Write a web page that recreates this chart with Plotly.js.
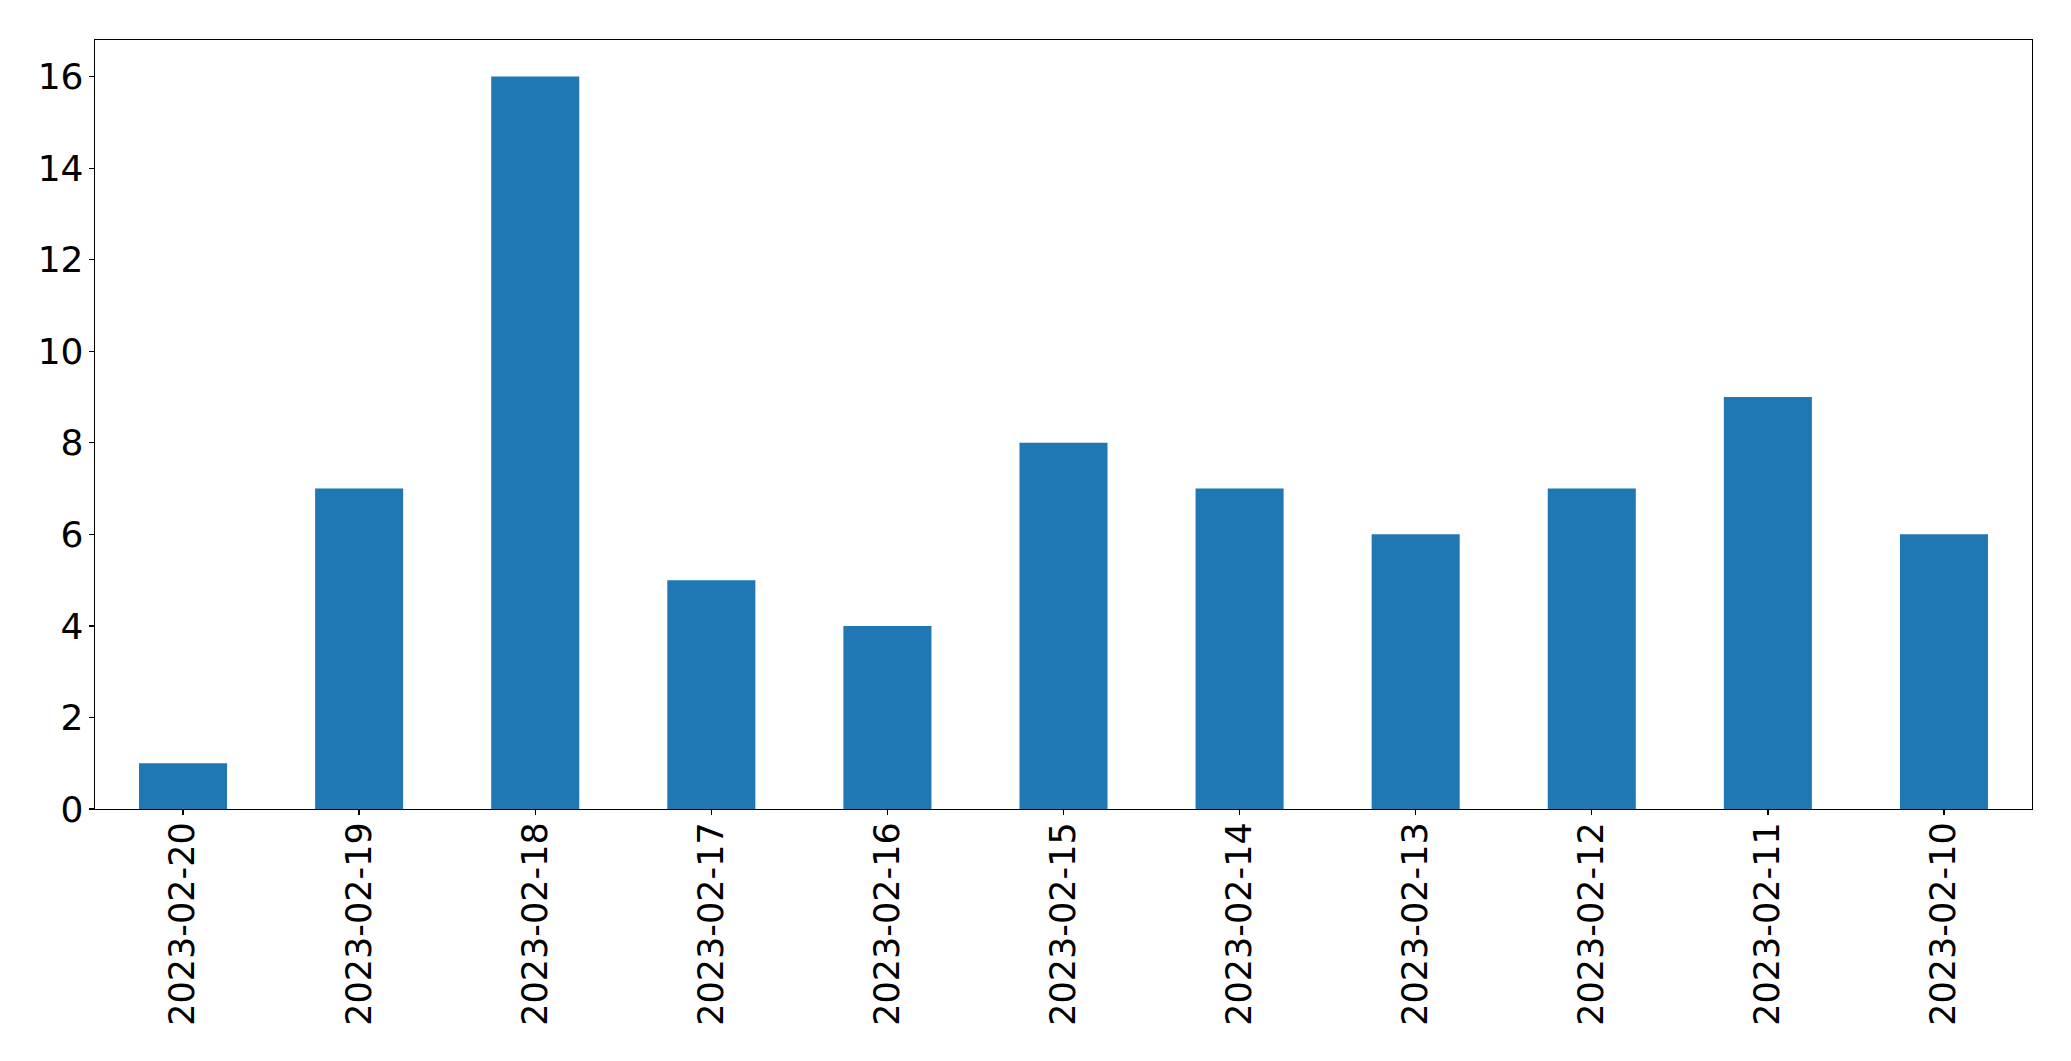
<!DOCTYPE html>
<html>
<head>
<meta charset="utf-8">
<script src="https://cdn.plot.ly/plotly-3.0.1.min.js"></script>
<style>
html,body{margin:0;padding:0;background:#fff;}
#chart{width:2071px;height:1061px;}
</style>
</head>
<body>
<div id="chart"></div>
<script>
const dates = ["2023-02-20","2023-02-19","2023-02-18","2023-02-17","2023-02-16","2023-02-15","2023-02-14","2023-02-13","2023-02-12","2023-02-11","2023-02-10"];
const counts = [1,7,16,5,4,8,7,6,7,9,6];
const yTicks = [0,2,4,6,8,10,12,14,16];

const trace = {
  type: 'bar',
  x: dates,
  y: counts,
  width: 0.5,
  marker: {color: '#1f77b4', line: {width: 0}},
  hoverinfo: 'x+y'
};

const layout = {
  width: 2071,
  height: 1061,
  margin: {l: 95, r: 39, t: 40, b: 252, pad: 0},
  paper_bgcolor: '#fff',
  plot_bgcolor: '#fff',
  showlegend: false,
  font: {family: 'DejaVu Sans', size: 35, color: '#000'},
  xaxis: {
    type: 'category',
    range: [-0.5, 10.5],
    tickangle: -90,
    showline: true, linecolor: '#000', linewidth: 1.3, mirror: true,
    showgrid: false, zeroline: false,
    ticks: 'outside', ticklen: 5, tickwidth: 1.3, tickcolor: '#000',
    ticklabelstandoff: -7,
    tickfont: {family: 'DejaVu Sans', size: 35, color: '#000'}
  },
  yaxis: {
    range: [0, 16.8],
    tickvals: yTicks,
    ticktext: yTicks.map(String),
    showline: true, linecolor: '#000', linewidth: 1.3, mirror: true,
    showgrid: false, zeroline: false,
    ticks: 'outside', ticklen: 5, tickwidth: 1.3, tickcolor: '#000',
    ticklabelstandoff: -2,
    tickfont: {family: 'DejaVu Sans', size: 36, color: '#000'}
  }
};

Plotly.newPlot('chart', [trace], layout, {displayModeBar: false, staticPlot: true});
</script>
</body>
</html>
